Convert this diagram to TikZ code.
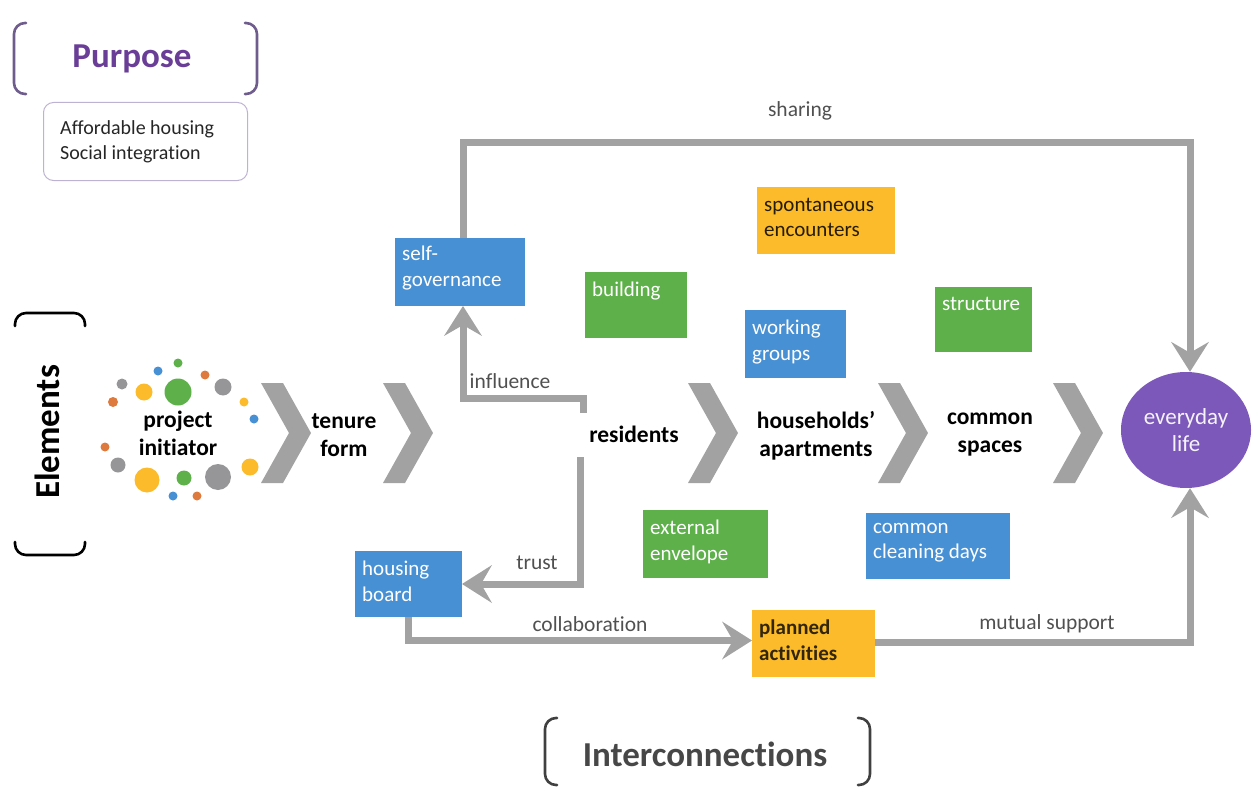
\documentclass[tikz,border=0pt]{standalone}
\usepackage{fontspec}
\setmainfont{Carlito}[Ligatures=NoCommon]
\usetikzlibrary{arrows.meta,shapes.geometric}

\definecolor{cblue}{RGB}{72,144,212}
\definecolor{cgreen}{RGB}{94,176,74}
\definecolor{corange}{RGB}{251,187,42}
\definecolor{cpurple}{RGB}{124,88,186}
\definecolor{cgray}{RGB}{162,162,162}
\definecolor{cdotorange}{RGB}{222,122,62}
\definecolor{cdotgray}{RGB}{150,150,152}
\definecolor{clabel}{RGB}{80,80,80}
\definecolor{cpurpletext}{RGB}{106,62,150}
\definecolor{cpurpleline}{RGB}{110,92,140}
\definecolor{cframe}{RGB}{190,178,210}

\tikzset{
  card/.style={anchor=north west, inner sep=0pt, outer sep=0pt},
  cardtext/.style={anchor=north west, align=left, inner sep=0pt,
    font=\fontsize{21}{25.5}\selectfont},
  stage/.style={align=center, inner sep=0pt, text=black,
    font=\fontsize{23.5}{28}\selectfont\bfseries},
  lbl/.style={inner sep=0pt, text=clabel, font=\fontsize{21.5}{26}\selectfont},
  heading/.style={inner sep=0pt, font=\fontsize{35}{40}\selectfont\bfseries},
  chev/.style={fill=cgray},
  brk/.style={line width=2.6pt, line cap=round, rounded corners=11pt},
  conn/.style={draw=cgray, line width=7pt,
    -{Stealth[length=30pt,width=38pt,inset=11pt,line width'=0pt]}}
}

\begin{document}
\begin{tikzpicture}[x=1pt,y=-1pt]
\useasboundingbox (0,0) rectangle (1253,789);

% ---------- Purpose ----------
\draw[brk, cpurpleline] (26,23) -- (14,23) -- (14,94) -- (26,94);
\draw[brk, cpurpleline] (245,23) -- (257,23) -- (257,94) -- (245,94);
\node[heading, text=cpurpletext] (purpose) at (132,59) {Purpose};
\node[draw=cframe, line width=1pt, rounded corners=10pt, minimum width=204pt,
      minimum height=78pt, anchor=north west] (aims) at (43,102) {};
\node[anchor=west, align=left, inner sep=0pt, text=black!85,
      font=\fontsize{20}{25}\selectfont] (aimstext) at (60,142) {Affordable housing\\Social integration};

% ---------- Elements ----------
\draw[brk, black] (15,326) -- (15,313) -- (85,313) -- (85,326);
\draw[brk, black] (15,542) -- (15,555) -- (85,555) -- (85,542);
\node[heading, text=black, rotate=90] (elements) at (47,432) {Elements};

% ---------- project initiator cluster ----------
\fill[cgreen] (178,363) circle (4.5);
\fill[cblue] (158,371) circle (4.5);
\fill[cdotorange] (205,375) circle (4.5);
\fill[cdotgray] (122,384) circle (5.5);
\fill[corange] (144,392) circle (8.5);
\fill[cgreen] (178,392) circle (13.5);
\fill[cdotgray] (223,387) circle (8.5);
\fill[cdotorange] (113,402) circle (5);
\fill[corange] (244,402) circle (4.5);
\fill[cblue] (254,419) circle (4.5);
\fill[cdotorange] (105,447) circle (4.5);
\fill[cdotgray] (118,465) circle (7.5);
\fill[corange] (250,467) circle (8.5);
\fill[corange] (147,480) circle (12.5);
\fill[cgreen] (184,478) circle (7.5);
\fill[cdotgray] (218,477) circle (13);
\fill[cblue] (173,496) circle (4.5);
\fill[cdotorange] (197,496) circle (4.5);
\node[stage] (initiator) at (178,433) {project\\initiator};

% ---------- chevrons ----------
\foreach \L in {261,383,688,878,1053}{
  \fill[chev] (\L,383) -- ++(22,0) -- (\L+50,433) -- (\L+22,483) -- (\L,483) -- (\L+28,433) -- cycle;
}
\node[stage] (tenure) at (344,435) {tenure\\form};
\node[stage] (residents) at (634,434) {residents};
\node[stage] (apartments) at (816,436) {households’\\apartments};
\node[stage] (spaces) at (990,435) {common\\spaces};
\node[ellipse, fill=cpurple, minimum width=130pt, minimum height=116pt, inner sep=0pt,
      align=center, text=white!92!cpurple, font=\fontsize{23}{27}\selectfont] (life) at (1186,430) {everyday\\life};

% ---------- cards ----------
\node[card, fill=cblue, minimum width=130pt, minimum height=68pt] (self) at (395,238) {};
\node[cardtext, text=white] (selftext) at ([shift={(7,8)}]self.north west) {self-\\governance};

\node[card, fill=cgreen, minimum width=102pt, minimum height=66pt] (building) at (585,272) {};
\node[cardtext, text=white] (buildingtext) at ([shift={(7,10)}]building.north west) {building};

\node[card, fill=cblue, minimum width=101pt, minimum height=68pt] (groups) at (745,310) {};
\node[cardtext, text=white] (groupstext) at ([shift={(7,10)}]groups.north west) {working\\groups};

\node[card, fill=corange, minimum width=138pt, minimum height=67pt] (encounters) at (757,187) {};
\node[cardtext, text=black!85!corange] (encounterstext) at ([shift={(7,11)}]encounters.north west) {spontaneous\\encounters};

\node[card, fill=cgreen, minimum width=97pt, minimum height=65pt] (structure) at (935,287) {};
\node[cardtext, text=white] (structuretext) at ([shift={(7,10)}]structure.north west) {structure};

\node[card, fill=cgreen, minimum width=125pt, minimum height=68pt] (envelope) at (643,510) {};
\node[cardtext, text=white] (envelopetext) at ([shift={(7,10)}]envelope.north west) {external\\envelope};

\node[card, fill=cblue, minimum width=144pt, minimum height=66pt] (cleaning) at (866,513) {};
\node[cardtext, text=white] (cleaningtext) at ([shift={(7,10)}]cleaning.north west) {common\\cleaning days};

\node[card, fill=cblue, minimum width=107pt, minimum height=66pt] (board) at (355,551) {};
\node[cardtext, text=white] (boardtext) at ([shift={(7,10)}]board.north west) {housing\\board};

\node[card, fill=corange, minimum width=123pt, minimum height=67pt] (plan) at (752,610) {};
\node[cardtext, text=black!80!corange, font=\fontsize{21}{25.5}\selectfont\bfseries] (plantext) at ([shift={(7,10)}]plan.north west) {planned\\activities};

% ---------- connectors ----------
\coordinate (infstart) at (583,413);
\coordinate (truststart) at (580,457);

\draw[conn] ([xshift=3pt]self.north) -- (463,143) -| ([xshift=4pt]life.north);
\draw[conn] (infstart) -- (583,398) -| ([xshift=3pt]self.south);
\draw[conn] (truststart) |- (board.east);
\draw[conn] (board.south) |- ([yshift=3pt]plan.west);
\draw[conn] ([yshift=1pt]plan.east) -| ([xshift=4pt]life.south);

% ---------- connector labels ----------
\node[lbl] (sharing) at (800,111) {sharing};
\node[lbl] (influence) at (510,381) {influence};
\node[lbl] (trust) at (537,563) {trust};
\node[lbl] (collab) at (590,624) {collaboration};
\node[lbl] (mutual) at (1047,624) {mutual support};

% ---------- Interconnections ----------
\draw[brk, black!75] (557,718) -- (545,718) -- (545,785) -- (557,785);
\draw[brk, black!75] (858,718) -- (870,718) -- (870,785) -- (858,785);
\node[heading, text=black!72] (inter) at (705,754) {Interconnections};
\end{tikzpicture}
\end{document}
